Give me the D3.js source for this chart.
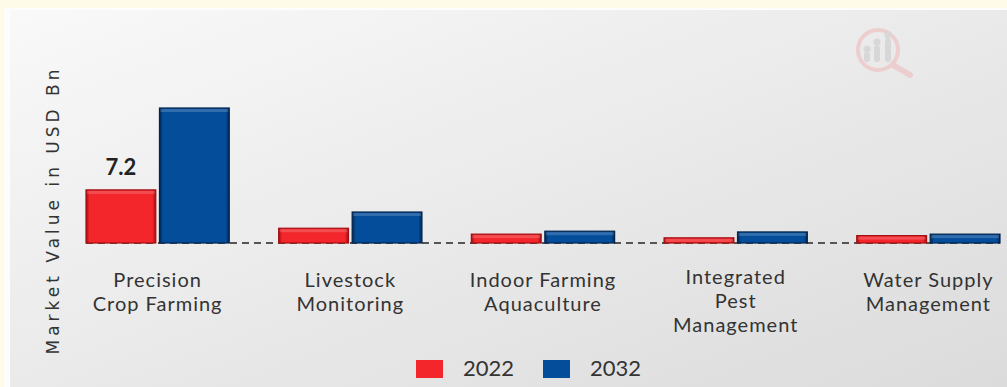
<!DOCTYPE html>
<html>
<head>
    <meta charset="UTF-8">
    <title>Market Value by Application</title>
    <script src="https://d3js.org/d3.v7.min.js"></script>
    <style>
        body { margin: 0; background: #fffbe9; }
        svg { display: block; }
    </style>
</head>
<body>
    <div id="my_dataviz"></div>
    <script type="text/javascript">

        // data
        let categories = [
            ["Precision", "Crop Farming"],
            ["Livestock", "Monitoring"],
            ["Indoor Farming", "Aquaculture"],
            ["Integrated", "Pest", "Management"],
            ["Water Supply", "Management"]
        ];
        let years = ["2022", "2032"];
        let values2022 = [7.2, 2.0, 1.2, 0.7, 1.0];
        let values2032 = [18.3, 4.2, 1.6, 1.5, 1.2];
        let shownLabel = "7.2";

        let width = 1007, height = 387;
        let baseY = 243;

        let svg = d3.select("#my_dataviz")
            .append("svg")
            .attr("width", width)
            .attr("height", height);

        let defs = svg.append("defs");

        // panel background
        let bg = defs.append("linearGradient").attr("id", "panelGrad")
            .attr("x1", "0").attr("y1", "0").attr("x2", "1").attr("y2", "1");
        bg.append("stop").attr("offset", "0%").attr("stop-color", "#f9f9f9");
        bg.append("stop").attr("offset", "100%").attr("stop-color", "#dbdbdb");

        svg.append("rect")
            .attr("x", 0).attr("y", 0).attr("width", width).attr("height", height)
            .attr("fill", "#fffbe9");
        svg.append("rect")
            .attr("x", 4).attr("y", 8).attr("width", width - 4).attr("height", height - 8)
            .attr("fill", "#fdfdfd");
        svg.append("rect")
            .attr("x", 10).attr("y", 10).attr("width", width - 10).attr("height", height - 10)
            .attr("fill", "url(#panelGrad)");

        // faint logo, top right
        let logo = svg.append("g").attr("opacity", 0.55);
        logo.append("circle").attr("cx", 878).attr("cy", 50).attr("r", 20)
            .attr("fill", "none").attr("stroke", "#f0b8b8").attr("stroke-width", 4);
        logo.append("line").attr("x1", 893).attr("y1", 65).attr("x2", 910).attr("y2", 75)
            .attr("stroke", "#f0b8b8").attr("stroke-width", 6).attr("stroke-linecap", "round");
        [[867, 52, 10], [877, 45, 17], [888, 38, 24]].forEach(function (b) {
            logo.append("rect").attr("x", b[0] - 3).attr("y", b[1]).attr("width", 6).attr("height", b[2])
                .attr("rx", 3).attr("fill", "#c9c9c9");
            logo.append("circle").attr("cx", b[0]).attr("cy", b[1] - 3).attr("r", 3.5).attr("fill", "#c9c9c9");
        });

        // colours with bevel gradients
        let colors = { "2022": ["#f2262b", "#a30d12"], "2032": ["#044d9b", "#02244d"] };
        years.forEach(function (yr) {
            let g = defs.append("linearGradient").attr("id", "grad" + yr)
                .attr("x1", "0").attr("y1", "0").attr("x2", "1").attr("y2", "0");
            g.append("stop").attr("offset", "0%").attr("stop-color", colors[yr][1]);
            g.append("stop").attr("offset", "5%").attr("stop-color", colors[yr][0]);
            g.append("stop").attr("offset", "95%").attr("stop-color", colors[yr][0]);
            g.append("stop").attr("offset", "100%").attr("stop-color", colors[yr][1]);
        });

        let keys = d3.range(categories.length);
        let x0 = d3.scaleBand()
            .domain(keys)
            .range([86, 1000])
            .paddingInner(0.2565)
            .paddingOuter(0);
        let x1 = d3.scaleBand()
            .domain(years)
            .range([0, x0.bandwidth()])
            .paddingInner(0.05);
        let y = d3.scaleLinear()
            .domain([0, d3.max(values2032)])
            .range([baseY, 108]);

        let rows = keys.map(function (i) {
            return { idx: i, vals: [{ year: "2022", v: values2022[i] }, { year: "2032", v: values2032[i] }] };
        });

        // dashed baseline
        svg.append("line")
            .attr("x1", x0.range()[0]).attr("x2", x0.range()[1])
            .attr("y1", baseY).attr("y2", baseY)
            .attr("stroke", "#555").attr("stroke-width", 2)
            .attr("stroke-dasharray", "7,5");

        let groups = svg.selectAll(".grp")
            .data(rows)
            .enter()
            .append("g")
            .attr("class", "grp")
            .attr("transform", function (d) { return "translate(" + x0(d.idx) + ",0)"; });

        groups.selectAll("rect")
            .data(function (d) { return d.vals; })
            .enter()
            .append("rect")
            .attr("x", function (d) { return x1(d.year); })
            .attr("y", function (d) { return y(d.v); })
            .attr("width", x1.bandwidth())
            .attr("height", function (d) { return baseY - y(d.v); })
            .attr("fill", function (d) { return "url(#grad" + d.year + ")"; })
            .attr("stroke", function (d) { return colors[d.year][1]; })
            .attr("stroke-width", 1.2);

        // top highlight on each bar
        groups.selectAll(".hi")
            .data(function (d) { return d.vals; })
            .enter()
            .append("rect")
            .attr("class", "hi")
            .attr("x", function (d) { return x1(d.year) + 1; })
            .attr("y", function (d) { return y(d.v) + 1; })
            .attr("width", x1.bandwidth() - 2)
            .attr("height", function (d) { return Math.min(3, baseY - y(d.v) - 2); })
            .attr("fill", "#ffffff")
            .attr("opacity", 0.18);

        // value label on first red bar
        svg.append("text")
            .attr("x", x0(0) + x1("2022") + x1.bandwidth() / 2)
            .attr("y", y(values2022[0]) - 15)
            .attr("text-anchor", "middle")
            .style("font-family", "Lato")
            .style("font-weight", "bold")
            .style("font-size", "22px")
            .style("fill", "#222")
            .text(shownLabel);

        // category labels, one text per line
        rows.forEach(function (d) {
            let lines = categories[d.idx];
            let top = 293 - lines.length * 3;
            svg.selectAll(".cat" + d.idx)
                .data(lines)
                .enter()
                .append("text")
                .attr("class", "cat")
                .attr("x", x0(d.idx) + x0.bandwidth() / 2)
                .attr("y", function (t, i) { return top + i * 24; })
                .attr("text-anchor", "middle")
                .style("font-family", "Lato")
                .style("font-size", "20px")
                .style("letter-spacing", "1px")
                .style("fill", "#333")
                .text(function (t) { return t; });
        });

        // y axis title
        svg.append("text")
            .attr("transform", "translate(59,210) rotate(-90)")
            .attr("text-anchor", "middle")
            .style("font-family", "DejaVu Sans")
            .style("font-size", "17px")
            .style("letter-spacing", "4px")
            .style("fill", "#333")
            .text("Market Value in USD Bn");

        // legend
        let legend = svg.append("g").attr("transform", "translate(416,360)");
        years.forEach(function (yr, i) {
            let gx = i * 127;
            legend.append("rect")
                .attr("x", gx).attr("y", 0).attr("width", 27).attr("height", 18)
                .attr("fill", colors[yr][0]);
            legend.append("text")
                .attr("x", gx + 47).attr("y", 16)
                .style("font-family", "Lato")
                .style("font-size", "22px")
                .style("fill", "#333")
                .text(yr);
        });

    </script>
</body>
</html>
